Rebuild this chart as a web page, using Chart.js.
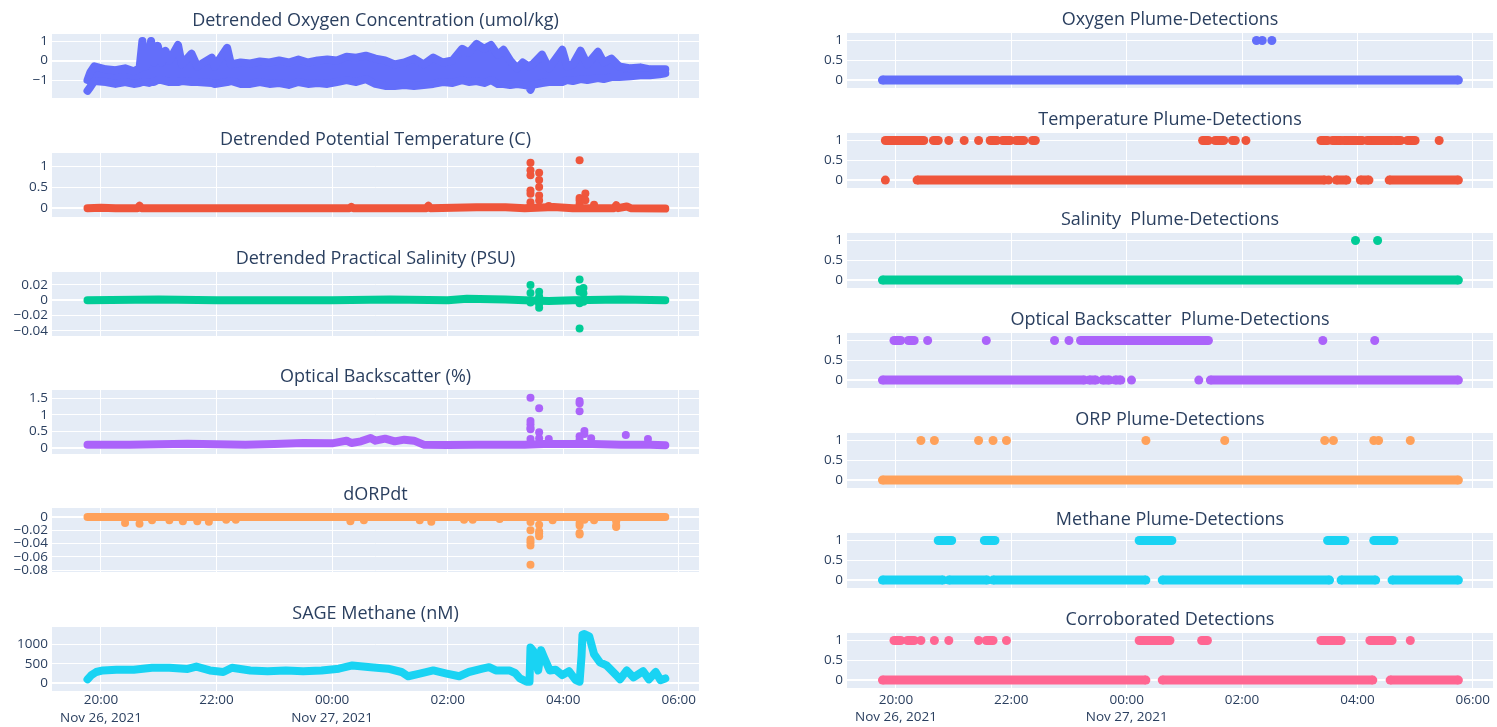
<!DOCTYPE html>
<html>
<head>
<meta charset="utf-8">
<script src="https://cdn.jsdelivr.net/npm/chart.js"></script>
<style>
  html, body { margin: 0; padding: 0; background: #ffffff; }
  body { position: relative; width: 1497px; height: 727px; overflow: hidden; }
</style>
</head>
<body>
<script>
// ---------- time axis ----------
const xTickClock = ['20:00', '22:00', '00:00', '02:00', '04:00', '06:00'];
const xTickDate  = ['Nov 26, 2021', '', 'Nov 27, 2021', '', '', ''];

// ---------- Detrended oxygen (band between low and high envelope) ----------
const oxyTime = [
  '19:46','19:49','19:53','20:05','20:15','20:25','20:34','20:40','20:43','20:46',
  '20:50','20:52','20:55','20:59','21:03','21:07','21:11','21:20','21:24','21:34',
  '21:40','21:55','21:58','22:11','22:15','22:25','22:35','22:45','22:55','23:05',
  '23:15','23:25','23:35','23:45','23:55','00:05','00:15','00:25','00:35','00:45',
  '00:55','01:05','01:15','01:25','01:35','01:45','01:55','02:05','02:15','02:22',
  '02:30','02:38','02:45','02:52','02:58','03:05','03:12','03:18','03:24','03:26',
  '03:28','03:38','03:45','03:59','04:04','04:10','04:18','04:25','04:36','04:42',
  '04:50','04:58','05:10','05:20','05:30','05:40','05:46'];
const oxyLow = [
  -1.55,-1.35,-1.05,-1.10,-1.20,-1.10,-1.20,-1.15,-1.10,-1.10,
  -1.15,-1.10,-1.10,-1.00,-1.00,-1.05,-1.10,-1.10,-1.05,-1.10,
  -1.10,-1.15,-1.20,-1.10,-1.05,-1.20,-1.20,-1.10,-1.20,-1.15,
  -1.25,-1.10,-1.20,-1.15,-1.20,-1.10,-1.00,-1.10,-0.95,-1.20,
  -1.30,-1.30,-1.25,-1.30,-1.25,-1.20,-1.10,-1.15,-1.00,-1.10,
  -1.05,-1.15,-1.00,-1.20,-1.20,-1.25,-1.20,-1.25,-1.30,-1.50,
  -1.25,-1.15,-1.10,-1.10,-1.00,-1.05,-0.95,-1.00,-0.90,-0.95,
  -0.85,-0.85,-0.80,-0.75,-0.75,-0.70,-0.65];
const oxyHigh = [
  -1.00,-0.60,-0.30,-0.45,-0.50,-0.40,-0.55,-0.40, 1.00,-0.30,
   0.10, 1.00,-0.10, 0.75,-0.10, 0.50, 0.00, 0.80,-0.20, 0.35,
  -0.30, 0.15,-0.30, 0.65,-0.20,-0.10,-0.15,-0.05,-0.10, 0.00,
  -0.10, 0.05,-0.10, 0.00, 0.05, 0.00, 0.20, 0.15, 0.25, 0.10,
   0.00,-0.20,-0.10, 0.10,-0.20, 0.15,-0.10, 0.00, 0.60, 0.40,
   0.85, 0.60, 0.80, 0.30, 0.55, 0.00,-0.40,-0.10,-0.30,-0.25,
  -0.20, 0.30,-0.40, 0.55,-0.30,-0.20, 0.50,-0.20, 0.45,-0.10,
   0.10,-0.30,-0.40,-0.35,-0.45,-0.45,-0.45];

// ---------- Detrended potential temperature ----------
const tempTime  = ['19:46','20:00','20:15','20:38','20:40','20:42','21:30','22:30','23:30','00:18','00:20','00:22','01:00','01:38','01:40','01:42','02:30','03:00','03:20','03:50','04:10','04:53','04:55','04:57','05:06','05:10','05:46'];
const tempValue = [0.0, 0.01, 0.0, 0.0, 0.06, 0.0, 0.0, 0.0, 0.0, 0.0, 0.03, 0.0, 0.0, 0.0, 0.06, 0.0, 0.02, 0.02, 0.0, 0.03, 0.0, 0.0, 0.07, 0.0, 0.04, 0.0, -0.01];
const tempPeakTime  = ['03:26','03:26','03:26','03:26','03:26','03:26','03:26','03:35','03:35','03:35','03:35','03:35','03:45','04:17','04:17','04:17','04:17','04:23','04:23','04:32'];
const tempPeakValue = [1.08, 0.9, 0.78, 0.42, 0.34, 0.14, 0.06, 0.84, 0.67, 0.5, 0.3, 0.18, 0.05, 1.14, 0.24, 0.18, 0.1, 0.35, 0.19, 0.08];

// ---------- Detrended practical salinity ----------
const salTime  = ['19:46','21:00','22:00','23:00','00:00','01:00','02:00','02:20','03:00','03:20','03:45','04:10','05:00','05:46'];
const salValue = [0, 0.001, 0, 0, 0, 0.001, 0, 0.002, 0.001, 0, -0.001, 0, 0.001, 0];
const salPeakTime  = ['03:26','03:26','03:26','03:35','03:35','03:35','03:35','04:17','04:17','04:17','04:17','04:17','04:21','04:21','04:21'];
const salPeakValue = [0.02, 0.0096, -0.003, 0.011, 0.005, -0.005, -0.01, 0.027, 0.014, 0.011, -0.004, -0.037, 0.016, 0.009, -0.002];

// ---------- Optical backscatter ----------
const optTime  = ['19:46','20:30','21:30','22:30','23:00','23:30','00:00','00:15','00:20','00:30','00:40','00:45','00:55','01:05','01:15','01:25','01:35','02:00','02:30','03:00','03:20','03:40','04:00','04:30','05:00','05:30','05:46'];
const optValue = [0.1, 0.1, 0.13, 0.1, 0.12, 0.15, 0.14, 0.22, 0.15, 0.2, 0.3, 0.22, 0.28, 0.2, 0.25, 0.22, 0.1, 0.09, 0.1, 0.1, 0.1, 0.12, 0.12, 0.12, 0.1, 0.1, 0.08];
const optPeakTime  = ['03:26','03:26','03:26','03:26','03:26','03:26','03:35','03:35','03:35','03:45','04:17','04:17','04:17','04:17','04:17','04:22','04:22','04:29','05:05','05:28'];
const optPeakValue = [1.51, 0.81, 0.71, 0.61, 0.56, 0.27, 1.19, 0.47, 0.29, 0.27, 1.41, 1.34, 1.1, 0.35, 0.25, 0.51, 0.42, 0.29, 0.39, 0.27];

// ---------- dORP/dt ----------
const dorpTime  = ['19:46','20:30','21:30','22:30','23:30','00:30','01:30','02:30','03:20','03:30','04:00','04:30','05:00','05:46'];
const dorpValue = [0, 0, 0, 0, 0, 0, 0, 0, 0, 0, 0, 0, 0, 0];
const dorpPeakTime  = ['20:25','20:40','20:53','21:11','21:25','21:40','21:52','22:10','22:20','00:19','00:33','01:31','01:43','02:17','02:26','02:54',
                       '03:26','03:26','03:26','03:26','03:26','03:26','03:35','03:35','03:35','03:35','03:49','04:17','04:17','04:17','04:17','04:22','04:32','04:55','04:55','04:55'];
const dorpPeakValue = [-0.009,-0.01,-0.005,-0.005,-0.0065,-0.0065,-0.007,-0.004,-0.004,-0.0065,-0.005,-0.005,-0.007,-0.004,-0.004,-0.003,
                       -0.0075,-0.02,-0.034,-0.038,-0.043,-0.072,-0.0115,-0.0215,-0.025,-0.029,-0.005,-0.009,-0.013,-0.024,-0.0265,-0.004,-0.005,-0.0065,-0.013,-0.015];

// ---------- SAGE methane ----------
const methTime = [
  '19:46','19:50','19:55','20:02','20:16','20:34','20:53','21:11','21:30','21:39',
  '21:53','22:07','22:16','22:35','22:53','23:12','23:30','23:49','00:07','00:21',
  '00:40','00:58','01:12','01:19','01:31','01:45','01:59','02:12','02:22','02:36',
  '02:43','02:50','03:04','03:10','03:15','03:22','03:25','03:26','03:29','03:34',
  '03:37','03:40','03:46','03:52','03:59','04:06','04:13','04:17','04:19','04:20',
  '04:22','04:27','04:32','04:38','04:45','04:55','04:59','05:06','05:13','05:23',
  '05:29','05:36','05:41','05:46'];
const methValue = [
  100, 210, 290, 330, 350, 350, 400, 400, 370, 430,
  330, 290, 400, 330, 310, 330, 310, 330, 375, 460,
  415, 375, 290, 180, 250, 330, 250, 180, 290, 375,
  415, 330, 330, 265, 125, 40, 40, 920, 830, 330,
  850, 670, 330, 350, 210, 310, 80, 40, 700, 1250,
  1270, 1210, 750, 540, 460, 210, 100, 330, 150, 310,
  100, 290, 80, 125];

// ---------- plume detections (runs of consecutive flags) ----------
const oxyDetOnes   = ['02:15', '02:21', '02:31'];
const oxyDetZeros  = ['19:46-05:45'];
const tempDetOnes  = ['19:49-20:29','20:39-20:44','20:55','21:11','21:26','21:38-21:45','21:51-21:59','22:05-22:13','22:22-22:25',
                      '01:19-01:25','01:32-01:41','01:50-01:53','02:04','03:22-03:29','03:34-03:43','03:46-04:05','04:10-04:36',
                      '04:39-04:45','04:52-05:00','05:25'];
const tempDetZeros = ['19:49','20:22-03:26','03:30','03:38-03:49','04:03-04:12','04:33-05:45'];
const salDetOnes   = ['03:58', '04:21'];
const salDetZeros  = ['19:46-05:45'];
const optDetOnes   = ['19:58-20:05','20:13-20:19','20:33','21:34','22:45','23:00','23:12-01:25','03:24','04:18'];
const optDetZeros  = ['19:46-23:16','23:21-23:28','23:35-23:42','23:48-23:54','00:05','01:15','01:27-05:45'];
const orpDetOnes   = ['20:26','20:40','21:26','21:41','21:55','00:20','01:42','03:26','03:35','04:17','04:22','04:55'];
const orpDetZeros  = ['19:46-05:45'];
const methDetOnes  = ['20:44-20:58','21:32-21:43','00:13-00:47','03:29-03:47','04:17-04:38'];
const methDetZeros = ['19:46-20:49','20:55-21:35','21:41-00:20','00:37-03:31','03:43-04:19','04:36-05:45'];
const corrDetOnes  = ['19:58-20:05','20:12-20:19','20:26','20:40','20:55','21:26','21:34-21:41','21:55',
                      '00:13-00:45','01:18-01:24','03:22-03:43','04:13-04:36','04:55'];
const corrDetZeros = ['19:46-00:20','00:37-04:16','04:34-05:45'];

// ---------- helpers ----------
// hours relative to 20:00 on Nov 26 (after-midnight clock times land on the next day)
function clockToHours(c) {
  const [h, m] = c.split(':').map(Number);
  let v = h + m / 60 - 20;
  if (v < -12) v += 24;
  return v;
}
const toPoints = (times, vals) => times.map((t, i) => ({ x: clockToHours(t), y: vals[i] }));
function runPoints(runs, level) {
  const out = [];
  runs.forEach(r => {
    const [a, b] = r.split('-');
    out.push({ x: clockToHours(a), y: level });
    if (b) out.push({ x: clockToHours(b), y: level });
    out.push({ x: clockToHours(b || a), y: null });
  });
  return out;
}
const fmtTick = v => String(Math.round(v * 1e6) / 1e6).replace('-', '\u2212');

const X_MIN = -0.848, X_MAX = 10.35;
const FONT = '"Open Sans", "DejaVu Sans", sans-serif';
const INK = '#2a3f5f';
const TITLE_SIZE = 18, TICK_SIZE = 13.5;
const BELOW = 10; // room under the plot area for the lowest y tick label

// plot-area background
const plotBg = {
  id: 'plotBg',
  beforeDraw(chart) {
    const { ctx, chartArea: a } = chart;
    ctx.save();
    ctx.fillStyle = '#E5ECF6';
    ctx.fillRect(a.left, a.top, a.right - a.left, a.bottom - a.top);
    ctx.restore();
  }
};

function xAxis(showLabels, height, pad) {
  return {
    type: 'linear', min: X_MIN, max: X_MAX,
    afterBuildTicks: ax => { ax.ticks = xTickClock.map(c => ({ value: clockToHours(c) })); },
    ticks: {
      display: showLabels, autoSkip: false, maxRotation: 0, minRotation: 0, padding: pad,
      color: INK, font: { family: FONT, size: TICK_SIZE, lineHeight: 1.3 },
      callback: (v, i) => xTickDate[i] ? [xTickClock[i], xTickDate[i]] : xTickClock[i]
    },
    grid: { color: '#ffffff', lineWidth: 1, drawTicks: false },
    border: { display: false },
    afterFit: ax => { ax.height = height; ax.paddingLeft = 0; ax.paddingRight = 0; }
  };
}

function yAxis(range, ticks, width) {
  return {
    type: 'linear', min: range[0], max: range[1],
    afterBuildTicks: ax => { ax.ticks = ticks.map(v => ({ value: v })); },
    ticks: { autoSkip: false, padding: 4, color: INK, font: { family: FONT, size: TICK_SIZE }, callback: v => fmtTick(v) },
    grid: { color: '#ffffff', lineWidth: c => (c.tick && c.tick.value === 0 ? 2 : 1), drawTicks: false },
    border: { display: false },
    afterFit: ax => { ax.width = width; ax.paddingTop = 0; ax.paddingBottom = 0; }
  };
}

function trace(data, color, width) {
  return { data, showLine: true, borderColor: color, backgroundColor: color, borderWidth: width,
           borderCapStyle: 'round', borderJoinStyle: 'round', pointRadius: 0, tension: 0, fill: false };
}
function dots(data, color, r) {
  return { data, showLine: false, pointRadius: r, pointBorderWidth: 0,
           pointBackgroundColor: color, backgroundColor: color, borderColor: color };
}
function runs(data, color, r) {
  return { data, showLine: true, spanGaps: false, borderColor: color, borderWidth: r * 2, borderCapStyle: 'butt',
           pointRadius: r, pointBorderWidth: 0, pointBackgroundColor: color, backgroundColor: color, fill: false };
}

function makeChart(spec) {
  const cv = document.createElement('canvas');
  cv.width = spec.w; cv.height = spec.h;
  cv.style.cssText = `position:absolute;left:${spec.left}px;top:${spec.top}px;width:${spec.w}px;height:${spec.h}px`;
  document.body.appendChild(cv);
  new Chart(cv, {
    type: 'scatter',
    data: { datasets: spec.datasets },
    options: {
      responsive: false, animation: false, devicePixelRatio: 1, events: [],
      layout: { autoPadding: false, padding: { left: 0, right: spec.padRight, top: 0, bottom: spec.padBottom } },
      plugins: {
        legend: { display: false }, tooltip: { enabled: false },
        title: { display: true, text: spec.title, color: INK, fullSize: false,
                 font: { family: FONT, size: TITLE_SIZE, weight: 'normal', lineHeight: 1.2 },
                 padding: { top: spec.titleTop, bottom: spec.titleBottom } }
      },
      scales: { x: spec.x, y: spec.y }
    },
    plugins: [plotBg]
  });
}

// ---------- left column: measured signals ----------
const leftPanels = [
  { title: 'Detrended Oxygen Concentration (umol/kg)', range: [-1.92, 1.36], ticks: [-1, 0, 1],
    datasets: [trace(toPoints(oxyTime, oxyLow), '#636efa', 8),
               Object.assign(trace(toPoints(oxyTime, oxyHigh), '#636efa', 8), { fill: '-1' })] },
  { title: 'Detrended Potential Temperature (C)', range: [-0.21, 1.31], ticks: [0, 0.5, 1],
    datasets: [trace(toPoints(tempTime, tempValue), '#EF553B', 8), dots(toPoints(tempPeakTime, tempPeakValue), '#EF553B', 4)] },
  { title: 'Detrended Practical Salinity (PSU)', range: [-0.047, 0.037], ticks: [-0.04, -0.02, 0, 0.02],
    datasets: [trace(toPoints(salTime, salValue), '#00cc96', 8), dots(toPoints(salPeakTime, salPeakValue), '#00cc96', 4)] },
  { title: 'Optical Backscatter (%)', range: [-0.18, 1.74], ticks: [0, 0.5, 1, 1.5],
    datasets: [trace(toPoints(optTime, optValue), '#ab63fa', 8), dots(toPoints(optPeakTime, optPeakValue), '#ab63fa', 4)] },
  { title: 'dORPdt', range: [-0.083, 0.0136], ticks: [-0.08, -0.06, -0.04, -0.02, 0],
    datasets: [trace(toPoints(dorpTime, dorpValue), '#FFA15A', 8), dots(toPoints(dorpPeakTime, dorpPeakValue), '#FFA15A', 4)] },
  { title: 'SAGE Methane (nM)', range: [-200, 1450], ticks: [0, 500, 1000],
    datasets: [trace(toPoints(methTime, methValue), '#19d3f3', 8)] }
];
const leftTops = [34, 153, 272, 390, 508, 627];
leftPanels.forEach((p, i) => {
  const last = i === leftPanels.length - 1;
  makeChart({
    left: 0, top: leftTops[i] - 34, w: 710, h: 34 + 64 + (last ? 36 : BELOW), padRight: 11, padBottom: last ? 0 : BELOW,
    titleTop: 10.2, titleBottom: 2.2, title: p.title, datasets: p.datasets,
    x: xAxis(last, last ? 36 : 0, 0.5), y: yAxis(p.range, p.ticks, 52)
  });
});

// ---------- right column: plume detections ----------
const rightPanels = [
  { title: 'Oxygen Plume-Detections', color: '#636efa', ones: oxyDetOnes, zeros: oxyDetZeros },
  { title: 'Temperature Plume-Detections', color: '#EF553B', ones: tempDetOnes, zeros: tempDetZeros },
  { title: 'Salinity  Plume-Detections', color: '#00cc96', ones: salDetOnes, zeros: salDetZeros },
  { title: 'Optical Backscatter  Plume-Detections', color: '#ab63fa', ones: optDetOnes, zeros: optDetZeros },
  { title: 'ORP Plume-Detections', color: '#FFA15A', ones: orpDetOnes, zeros: orpDetZeros },
  { title: 'Methane Plume-Detections', color: '#19d3f3', ones: methDetOnes, zeros: methDetZeros },
  { title: 'Corroborated Detections', color: '#FF6692', ones: corrDetOnes, zeros: corrDetZeros }
];
rightPanels.forEach((p, i) => {
  const last = i === rightPanels.length - 1;
  const bgTop = 33 + 100 * i;
  makeChart({
    left: 790, top: bgTop - 33, w: 707, h: 33 + 55 + (last ? 39 : BELOW), padRight: 4, padBottom: last ? 0 : BELOW,
    titleTop: 8.7, titleBottom: 2.7, title: p.title,
    datasets: [runs(runPoints(p.ones, 1), p.color, 4.5), runs(runPoints(p.zeros, 0), p.color, 4.5)],
    x: xAxis(last, last ? 39 : 0, 3.2), y: yAxis([-0.2, 1.19], [0, 0.5, 1], 57)
  });
});
</script>
</body>
</html>
